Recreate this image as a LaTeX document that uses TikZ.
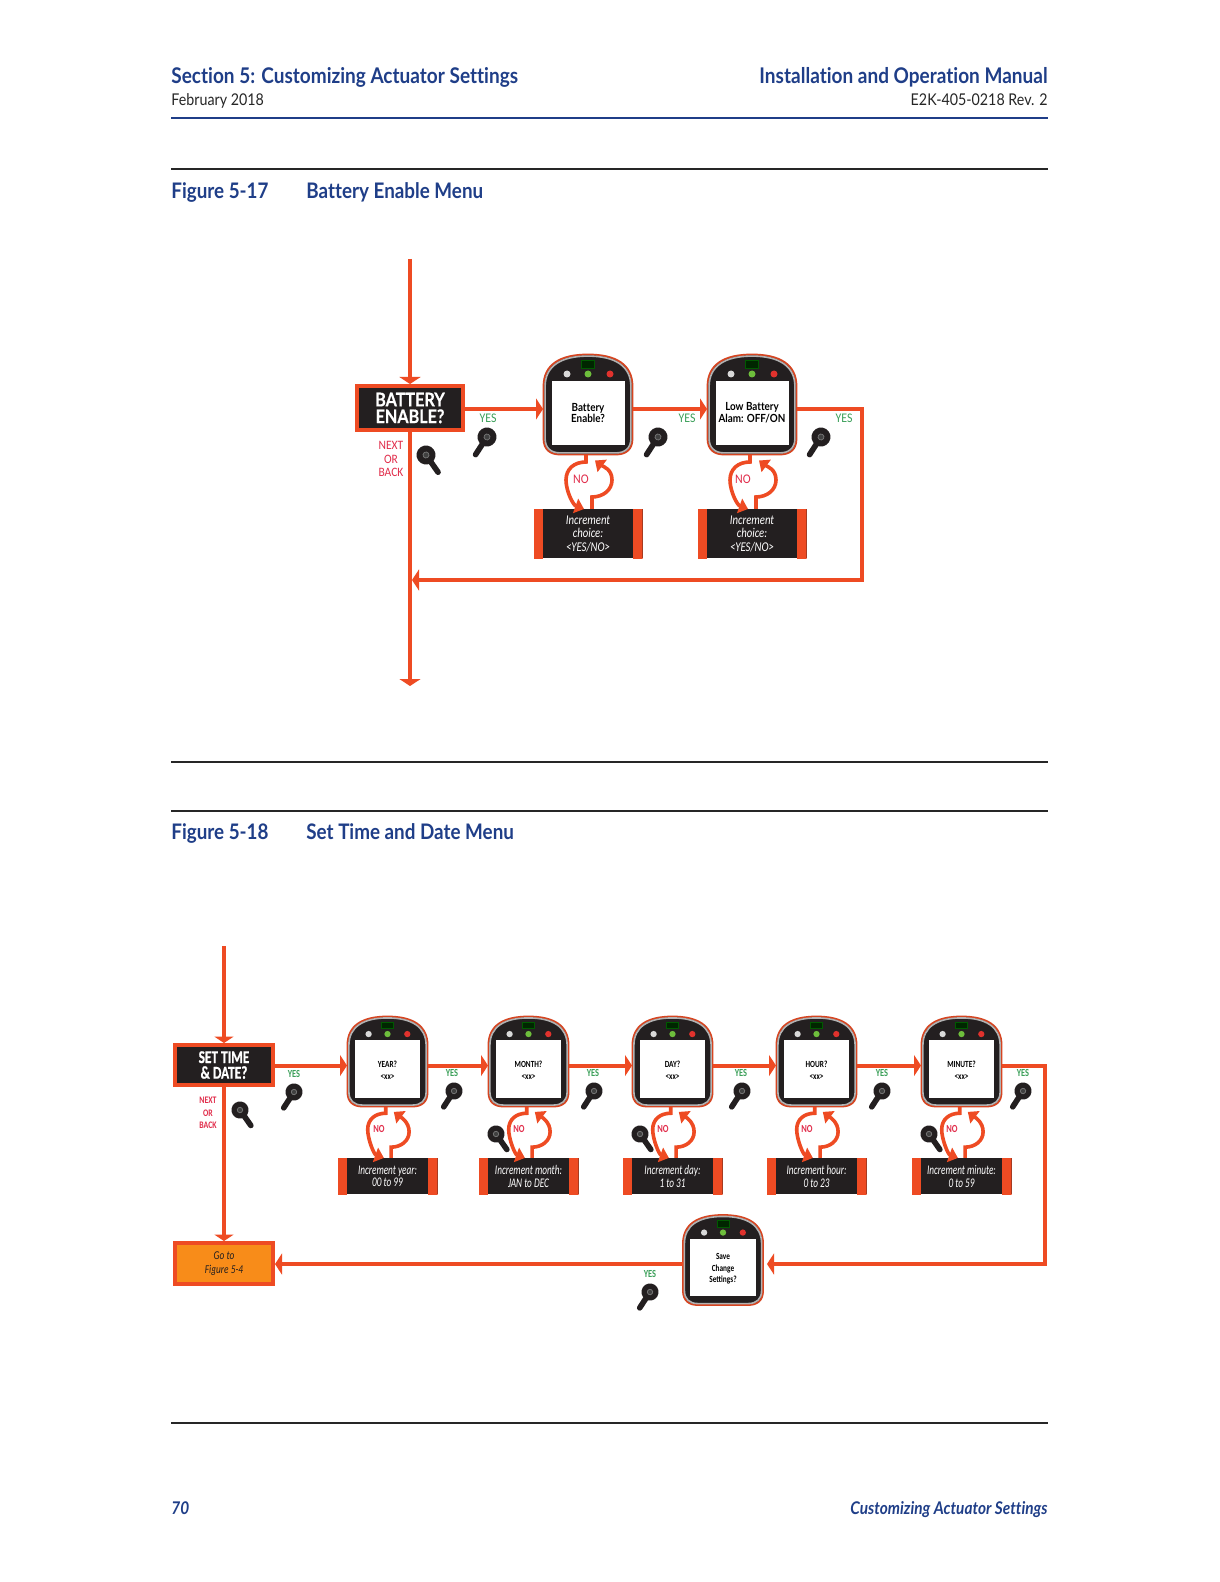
\documentclass[tikz,border=0pt]{standalone}
\usepackage{fontspec}
\setmainfont[Ligatures=NoCommon]{Lato}
\newfontfamily\pagefont[FakeStretch=0.88,Ligatures=NoCommon]{Lato}
\newfontfamily\heavyfont[FakeStretch=0.86,Ligatures=NoCommon,BoldFeatures={FakeBold=0.5}]{Lato}
\newfontfamily\condfont[FakeStretch=0.78]{Carlito}
\newfontfamily\heavycond[FakeStretch=0.74,BoldFeatures={FakeBold=0.6}]{Carlito}
\newfontfamily\narrowfont[FakeStretch=0.9]{Carlito}
\newfontfamily\incfont[FakeStretch=0.8]{Carlito}
\newfontfamily\tallfont[FakeStretch=0.7]{Carlito}
\usetikzlibrary{arrows.meta,positioning}
\definecolor{flowred}{RGB}{238,75,35}
\definecolor{panelblack}{RGB}{35,31,32}
\definecolor{headblue}{RGB}{31,62,136}
\definecolor{yesgreen}{RGB}{60,160,90}
\definecolor{nextred}{RGB}{225,45,75}
\definecolor{gotoorange}{RGB}{248,140,25}
\definecolor{ledgreen}{RGB}{110,190,60}
\definecolor{ledred}{RGB}{225,50,45}

\begin{document}
\begin{tikzpicture}[
    x=0.5pt,
    y=-0.5pt,
    flow/.style={draw=flowred,line width=2pt,-{Triangle[length=3.5pt,width=10.5pt]}},
    smallflow/.style={draw=flowred,line width=2pt,-{Triangle[length=3.2pt,width=9.5pt]}},
    turn/.style={draw=flowred,line width=1.8pt,-{Triangle[length=4.5pt,width=7.5pt]}},
    smallturn/.style={turn,scale=0.9},
    noleft/.style={to path={-- ++(0,7) .. controls +(-12,0) and +(0,-11) .. ++(-20,18) .. controls +(0,11) and +(-11,-4) .. (\tikztotarget)}},
    noright/.style={to path={-- ++(0,-12) .. controls +(11,0) and +(0,10) .. ++(20,-17) .. controls +(0,-11) and +(8,6) .. (\tikztotarget)}},
    question/.style={
        draw=flowred,
        fill=panelblack,
        text=white,
        line width=2pt,
        align=center,
        inner sep=0pt
    },
    bigquestion/.style={question,minimum width=53pt,minimum height=22pt,font=\heavyfont\fontsize{9.4}{8.4}\selectfont\bfseries},
    smallquestion/.style={question,minimum width=49pt,minimum height=20pt,font=\heavycond\fontsize{9}{7.8}\selectfont\bfseries},
    gotobox/.style={question,fill=gotoorange,text=panelblack,minimum width=49pt,minimum height=20.5pt,
        font=\condfont\fontsize{6}{7}\selectfont\itshape},
    incbox/.style={
        fill=panelblack,
        text=white,
        align=center,
        inner sep=0pt,
        path picture={
            \fill[flowred] (path picture bounding box.north west) rectangle ++(4.8pt,-30pt);
            \fill[flowred] (path picture bounding box.north east) rectangle ++(-4.8pt,-30pt);
        }
    },
    bigincbox/.style={incbox,minimum width=54.5pt,minimum height=24.5pt,font=\incfont\fontsize{6.7}{6.8}\selectfont\itshape},
    smallincbox/.style={incbox,minimum width=50pt,minimum height=18pt,font=\tallfont\fontsize{6.6}{6.3}\selectfont\itshape},
    yeslabel/.style={text=yesgreen,inner sep=0pt,font=\narrowfont\fontsize{6.6}{7}\selectfont},
    smallyes/.style={text=yesgreen,inner sep=0pt,font=\condfont\fontsize{5.4}{6}\selectfont\bfseries},
    nolabel/.style={text=nextred,inner sep=0pt,font=\narrowfont\fontsize{6.6}{7}\selectfont},
    smallno/.style={text=nextred,inner sep=0pt,font=\condfont\fontsize{5.4}{6}\selectfont\bfseries},
    nextlabel/.style={text=nextred,inner sep=0pt,align=center,font=\narrowfont\fontsize{6.4}{6.6}\selectfont},
    smallnext/.style={text=nextred,inner sep=0pt,align=center,font=\condfont\fontsize{5}{6.2}\selectfont\bfseries},
    screentext/.style={font=\pagefont\fontsize{5.6}{5.9}\selectfont\bfseries},
    smalldevice/.style={scale=0.9,transform shape,screentext/.style={yshift=-0.6pt,font=\condfont\fontsize{5.2}{6.3}\selectfont\bfseries}},
    device/.pic={
        \path[draw=flowred!90!black,line width=0.9pt,fill=panelblack]
            (-44.5,-18) .. controls (-44.5,-40) and (-28,-50) .. (0,-50)
            .. controls (28,-50) and (44.5,-40) .. (44.5,-18) -- (44.5,34)
            .. controls (44.5,45) and (38,50) .. (28,50) -- (-28,50)
            .. controls (-38,50) and (-44.5,45) .. (-44.5,34) -- cycle;
        \path[draw=black!30,line width=0.8pt]
            (-42.9,-18) .. controls (-42.9,-38.5) and (-27,-48.4) .. (0,-48.4)
            .. controls (27,-48.4) and (42.9,-38.5) .. (42.9,-18) -- (42.9,34)
            .. controls (42.9,43.5) and (37,48.4) .. (28,48.4) -- (-28,48.4)
            .. controls (-37,48.4) and (-42.9,43.5) .. (-42.9,34) -- cycle;
        \node[minimum width=45pt,minimum height=50.5pt,outer sep=0pt,inner sep=0pt] (-body) at (0,0) {};
        \fill[white] (-36.5,-23.5) rectangle (36.5,40.5);
        \node[screentext,inner sep=0pt,align=center] (-screen) at (0,8.5) {\tikzpictext};
        \fill[black!15] (-21,-30.5) circle (3.5);
        \fill[ledgreen] (0,-30.5) circle (3.5);
        \fill[ledred] (22,-30.5) circle (3.5);
        \draw[green!35!black,fill=green!15!black,line width=0.3pt] (-6.5,-44) rectangle (6.5,-36.5);
        \coordinate (-w) at (-45,4.5);
        \coordinate (-e) at (45,4.5);
        \coordinate (-out) at (-2,50.5);
        \coordinate (-in) at (7,56);
    },
    knob/.pic={
        \draw[panelblack,line width=2.8pt,line cap=round] (0,0) -- (0,21);
        \fill[panelblack] (0,0) circle (9.5);
        \draw[black!55,line width=0.4pt,fill=black!75] (0,0) circle (3);
    },
    yesknob/.style={rotate=-33},
    nextknob/.style={rotate=35},
    smallyesknob/.style={rotate=-33,scale=0.9},
    smallnextknob/.style={rotate=35,scale=0.9},
    headline/.style={text=headblue,inner sep=0pt,font=\pagefont\fontsize{10.8}{12}\selectfont\bfseries},
    subline/.style={inner sep=0pt,font=\pagefont\fontsize{8.1}{10}\selectfont,text=black!85},
    figure/.style={text=headblue,inner sep=0pt,font=\pagefont\fontsize{10.7}{12}\selectfont\bfseries},
    footer/.style={text=headblue,inner sep=0pt,font=\pagefont\fontsize{8.75}{10}\selectfont\bfseries\itshape}
]
    \path[use as bounding box,fill=white] (0,0) rectangle (1219,1582);

    \node[headline,anchor=base west] (section) at (171,84) {Section 5: Customizing Actuator Settings};
    \node[headline,anchor=base east] (manual) at (1048,84) {Installation and Operation Manual};
    \node[subline,anchor=base west] (date) at (171,105.5) {February 2018};
    \node[subline,anchor=base east] (revision) at (1048,105.5) {E2K-405-0218 Rev. 2};
    \draw[headblue,line width=1pt] (171,118) -- (1048,118);

    \draw[black!85,line width=0.6pt] (171,169) -- (1048,169);
    \node[figure,anchor=base west] (figure-17) at (171,199) {Figure 5-17};
    \node[figure,anchor=base west] (title-17) at (306,199) {Battery Enable Menu};
    \draw[black!85,line width=0.6pt] (171,762) -- (1048,762);

    \draw[black!85,line width=0.6pt] (171,811) -- (1048,811);
    \node[figure,anchor=base west] (figure-18) at (171,839) {Figure 5-18};
    \node[figure,anchor=base west] (title-18) at (306,839) {Set Time and Date Menu};
    \draw[black!85,line width=0.6pt] (171,1423) -- (1048,1423);

    \node[footer,anchor=base west] (page) at (171,1514.5) {70};
    \node[footer,anchor=base east] (chapter) at (1048,1514.5) {Customizing Actuator Settings};

    \coordinate (battery-top) at (410,259);
    \coordinate (battery-end) at (410,686);
    \coordinate (battery-corner) at (862,580);
    \coordinate (battery-join) at (412,580);
    \node[bigquestion] (battery) at (410,408) {BATTERY\\ENABLE?};
    \pic[pic text={Battery\\Enable?}] (enable) at (588,404.5) {device};
    \pic[pic text={Low Battery\\Alam: OFF/ON}] (alarm) at (752,404.5) {device};
    \node[bigincbox, below=27pt of enable-body] (enable-inc) {Increment\\choice:\\<YES/NO>};
    \node[bigincbox, below=27pt of alarm-body] (alarm-inc) {Increment\\choice:\\<YES/NO>};

    \node[nextlabel] (battery-next) at (391,459) {NEXT\\OR\\BACK};
    \node[yeslabel] (enable-yes) at (488,418) {YES};
    \node[yeslabel] (alarm-yes) at (687,418) {YES};
    \node[yeslabel] (return-yes) at (844,418) {YES};
    \node[nolabel] (enable-no) at (581,479) {NO};
    \node[nolabel] (alarm-no) at (743,479) {NO};
    \pic[nextknob] at (426,455) {knob};
    \pic[yesknob] at (487,437) {knob};
    \pic[yesknob] at (658,437) {knob};
    \pic[yesknob] at (821,437) {knob};

    \draw[flow] (battery-top) -- (battery.north);
    \draw[flow] (battery.south) -- (battery-end);
    \draw[flow] (battery.east |- enable-w) -- (enable-w);
    \draw[flow] (enable-e) -- (alarm-w);
    \draw[flow] (alarm-e) -| (battery-corner) -- (battery-join);
    \draw[turn,noleft] (enable-out) to ([xshift=-2pt]enable-inc.north);
    \draw[turn,noright] ([xshift=2pt]enable-inc.north) to (enable-in);
    \draw[turn,noleft] (alarm-out) to ([xshift=-2pt]alarm-inc.north);
    \draw[turn,noright] ([xshift=2pt]alarm-inc.north) to (alarm-in);

    \coordinate (time-top) at (224,946);
    \coordinate (time-corner) at (1045,1264);
    \coordinate (save-join) at (767,1264);
    \node[smallquestion] (set-time) at (224,1065) {SET TIME\\\& DATE?};
    \node[gotobox] (go-to) at (224,1263.5) {Go to\\Figure 5-4};
    \pic[smalldevice,pic text={YEAR?\\<xx>}] (year) at (387.5,1061.5) {device};
    \pic[smalldevice,pic text={MONTH?\\<xx>}] (month) at (528.5,1061.5) {device};
    \pic[smalldevice,pic text={DAY?\\<xx>}] (day) at (672.5,1061.5) {device};
    \pic[smalldevice,pic text={HOUR?\\<xx>}] (hour) at (816.5,1061.5) {device};
    \pic[smalldevice,pic text={MINUTE?\\<xx>}] (minute) at (961.5,1061.5) {device};
    \pic[smalldevice,pic text={Save\\Change\\Settings?}] (save) at (723,1260) {device};
    \node[smallincbox, below=25.5pt of year-body] (year-inc) {Increment year:\\00 to 99};
    \node[smallincbox, below=25.5pt of month-body] (month-inc) {Increment month:\\JAN to DEC};
    \node[smallincbox, below=25.5pt of day-body] (day-inc) {Increment day:\\1 to 31};
    \node[smallincbox, below=25.5pt of hour-body] (hour-inc) {Increment hour:\\0 to 23};
    \node[smallincbox, below=25.5pt of minute-body] (minute-inc) {Increment minute:\\0 to 59};

    \node[smallnext] (time-next) at (208,1113) {NEXT\\OR\\BACK};
    \node[smallyes] (year-yes) at (294,1074) {YES};
    \node[smallyes] (month-yes) at (452,1073) {YES};
    \node[smallyes] (day-yes) at (593,1073) {YES};
    \node[smallyes] (hour-yes) at (741,1073) {YES};
    \node[smallyes] (minute-yes) at (882,1073) {YES};
    \node[smallyes] (last-yes) at (1023,1073) {YES};
    \node[smallyes] (save-yes) at (650,1274) {YES};
    \node[smallno] (year-no) at (379,1129) {NO};
    \node[smallno] (month-no) at (519,1129) {NO};
    \node[smallno] (day-no) at (663,1129) {NO};
    \node[smallno] (hour-no) at (807,1129) {NO};
    \node[smallno] (minute-no) at (952,1129) {NO};
    \pic[smallnextknob] at (240,1110) {knob};
    \pic[smallyesknob] at (294,1092) {knob};
    \pic[smallyesknob] at (454,1091) {knob};
    \pic[smallyesknob] at (594,1091) {knob};
    \pic[smallyesknob] at (742,1091) {knob};
    \pic[smallyesknob] at (882,1091) {knob};
    \pic[smallyesknob] at (1023,1091) {knob};
    \pic[smallyesknob] at (650,1292) {knob};
    \pic[smallnextknob] at (496,1134) {knob};
    \pic[smallnextknob] at (640,1134) {knob};
    \pic[smallnextknob] at (929,1134) {knob};

    \draw[smallflow] (time-top) -- (set-time.north);
    \draw[smallflow] (set-time.south) -- (go-to.north);
    \draw[flow] (set-time.east |- year-w) -- (year-w);
    \draw[flow] (year-e) -- (month-w);
    \draw[flow] (month-e) -- (day-w);
    \draw[flow] (day-e) -- (hour-w);
    \draw[flow] (hour-e) -- (minute-w);
    \draw[flow] (minute-e) -| (time-corner) -- (save-join);
    \draw[flow] (save-w) -- (go-to.east |- save-w);
    \draw[smallturn,noleft] (year-out) to ([xshift=-2pt]year-inc.north);
    \draw[smallturn,noright] ([xshift=2pt]year-inc.north) to (year-in);
    \draw[smallturn,noleft] (month-out) to ([xshift=-2pt]month-inc.north);
    \draw[smallturn,noright] ([xshift=2pt]month-inc.north) to (month-in);
    \draw[smallturn,noleft] (day-out) to ([xshift=-2pt]day-inc.north);
    \draw[smallturn,noright] ([xshift=2pt]day-inc.north) to (day-in);
    \draw[smallturn,noleft] (hour-out) to ([xshift=-2pt]hour-inc.north);
    \draw[smallturn,noright] ([xshift=2pt]hour-inc.north) to (hour-in);
    \draw[smallturn,noleft] (minute-out) to ([xshift=-2pt]minute-inc.north);
    \draw[smallturn,noright] ([xshift=2pt]minute-inc.north) to (minute-in);
\end{tikzpicture}
\end{document}
